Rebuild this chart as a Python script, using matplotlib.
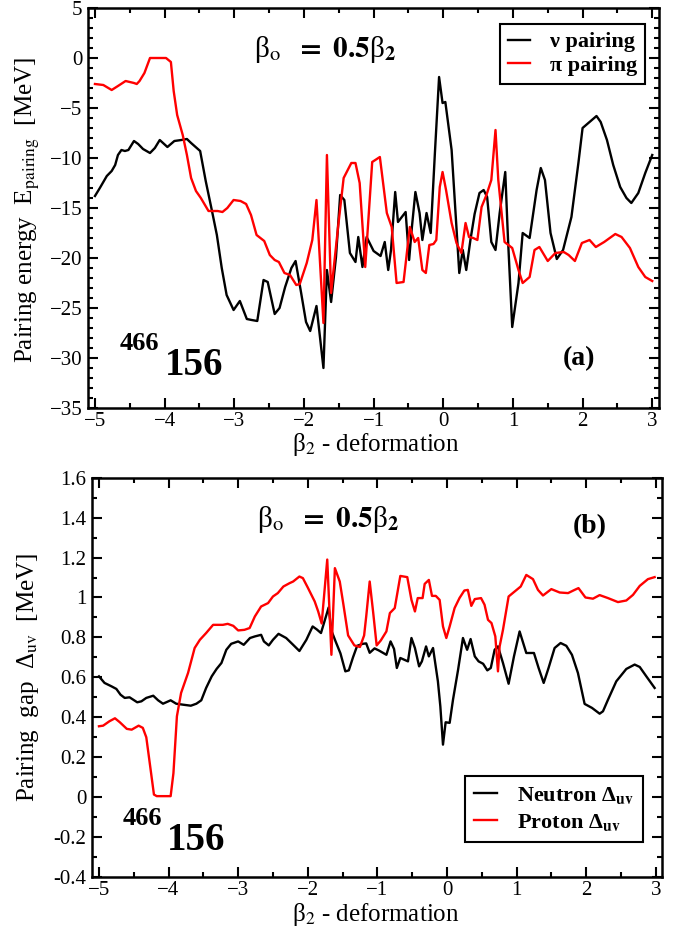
import matplotlib
matplotlib.use("Agg")
import matplotlib.pyplot as plt
from matplotlib.ticker import MultipleLocator

plt.rcParams['font.family'] = ['Liberation Serif', 'DejaVu Serif']
plt.rcParams['mathtext.fontset'] = 'stix'

# ---------------- Panel (a): pairing energy ----------------
a_nu_x = [-5.00,-4.93,-4.83,-4.76,-4.71,-4.67,-4.62,-4.57,-4.52,-4.44,-4.38,-4.31,-4.21,-4.14,-4.07,-3.96,-3.86,-3.76,-3.68,-3.62,
          -3.49,-3.41,-3.32,-3.25,-3.18,-3.11,-3.01,-2.92,-2.82,-2.75,-2.67,-2.58,-2.52,-2.42,-2.35,-2.27,-2.18,-2.12,-2.04,-1.97,
          -1.91,-1.82,-1.72,-1.67,-1.61,-1.54,-1.48,-1.42,-1.34,-1.26,-1.22,-1.16,-1.10,-1.00,-0.90,-0.84,-0.79,-0.75,-0.69,-0.65,
          -0.54,-0.49,-0.45,-0.40,-0.34,-0.30,-0.24,-0.18,-0.12,-0.06,-0.01,0.03,0.12,0.18,0.23,0.28,0.33,0.39,0.45,0.52,
          0.58,0.63,0.69,0.75,0.81,0.89,0.93,0.99,1.08,1.14,1.24,1.34,1.40,1.46,1.54,1.63,1.72,1.84,1.94,2.00,
          2.10,2.20,2.26,2.35,2.44,2.54,2.63,2.70,2.80,2.90,3.00]
a_nu_y = [-13.8,-13.0,-11.8,-11.3,-10.7,-9.7,-9.2,-9.3,-9.2,-8.3,-8.6,-9.1,-9.5,-9.0,-8.2,-8.9,-8.3,-8.2,-8.1,-8.5,
          -9.3,-12.3,-15.3,-17.7,-21.0,-23.7,-25.2,-24.3,-26.1,-26.2,-26.3,-22.2,-22.4,-25.6,-25.0,-22.9,-21.0,-20.3,-23.5,-26.4,
          -27.3,-24.8,-31.0,-21.2,-24.4,-19.9,-13.7,-14.2,-19.5,-20.4,-17.9,-20.9,-17.9,-19.3,-19.8,-18.4,-21.2,-19.2,-13.4,-16.4,
          -15.4,-20.2,-16.9,-13.4,-15.5,-18.2,-15.5,-17.5,-9.5,-1.9,-4.5,-4.4,-9.2,-15.9,-21.5,-19.2,-21.2,-18.2,-15.6,-13.5,
          -13.2,-13.9,-18.4,-19.2,-15.5,-11.4,-18.2,-26.9,-22.5,-17.5,-18.0,-13.2,-11.0,-12.2,-17.5,-20.1,-19.2,-15.9,-10.5,-7.0,
          -6.4,-5.8,-6.4,-8.2,-10.7,-12.9,-14.0,-14.5,-13.5,-11.5,-9.7]

a_pi_x = [-5.00,-4.88,-4.76,-4.67,-4.56,-4.44,-4.40,-4.36,-4.29,-4.21,-3.98,-3.91,-3.87,-3.82,-3.74,-3.68,-3.62,-3.55,-3.48,-3.37,
          -3.24,-3.17,-3.10,-3.01,-2.91,-2.83,-2.76,-2.68,-2.57,-2.49,-2.42,-2.36,-2.28,-2.20,-2.11,-2.06,-1.96,-1.88,-1.82,-1.72,
          -1.67,-1.61,-1.51,-1.43,-1.32,-1.26,-1.20,-1.12,-1.02,-0.91,-0.81,-0.74,-0.67,-0.57,-0.48,-0.41,-0.36,-0.30,-0.25,-0.20,
          -0.14,-0.10,-0.05,-0.01,0.04,0.12,0.19,0.26,0.32,0.37,0.43,0.49,0.55,0.62,0.69,0.75,0.79,0.88,0.99,1.08,
          1.14,1.24,1.31,1.38,1.50,1.61,1.73,1.80,1.89,1.99,2.10,2.19,2.31,2.47,2.56,2.68,2.80,2.90,3.00]
a_pi_y = [-2.6,-2.7,-3.2,-2.8,-2.3,-2.5,-2.6,-2.3,-1.5,0.0,0.0,-0.4,-3.3,-5.7,-7.7,-9.7,-12.0,-13.3,-14.0,-15.3,
          -15.3,-15.4,-15.0,-14.2,-14.3,-14.6,-15.7,-17.7,-18.3,-19.7,-20.2,-20.4,-21.5,-21.7,-22.7,-22.6,-20.5,-18.2,-14.2,-26.5,
          -9.7,-23.5,-16.9,-12.0,-10.5,-10.5,-12.5,-20.9,-10.4,-9.9,-15.5,-16.9,-22.5,-22.4,-16.9,-18.4,-18.0,-21.2,-21.5,-18.7,
          -18.6,-18.2,-12.9,-11.4,-13.2,-16.5,-18.5,-19.5,-16.5,-17.9,-18.0,-18.2,-14.9,-13.7,-12.2,-7.2,-12.2,-18.4,-19.0,-21.2,
          -22.5,-21.9,-19.2,-18.9,-20.3,-19.5,-19.4,-19.7,-20.3,-18.5,-18.2,-18.9,-18.4,-17.6,-17.9,-19.0,-20.9,-21.9,-22.3]

# ---------------- Panel (b): pairing gap ----------------
b_n_x = [-5.00,-4.92,-4.82,-4.75,-4.69,-4.63,-4.56,-4.45,-4.39,-4.32,-4.22,-4.15,-4.08,-3.97,-3.89,-3.79,-3.68,-3.60,-3.53,-3.46,
         -3.38,-3.31,-3.24,-3.17,-3.10,-3.00,-2.92,-2.83,-2.76,-2.67,-2.63,-2.56,-2.50,-2.42,-2.31,-2.21,-2.12,-2.02,-1.93,-1.87,
         -1.81,-1.76,-1.70,-1.66,-1.60,-1.53,-1.46,-1.41,-1.35,-1.29,-1.21,-1.16,-1.11,-1.04,-0.98,-0.87,-0.81,-0.76,-0.72,-0.67,
         -0.56,-0.51,-0.46,-0.40,-0.36,-0.30,-0.26,-0.20,-0.13,-0.095,-0.057,-0.019,0.039,0.087,0.16,0.23,0.29,0.34,0.40,0.455,
         0.52,0.58,0.63,0.685,0.733,0.805,0.886,0.963,1.044,1.14,1.25,1.317,1.39,1.46,1.547,1.633,1.715,1.796,1.882,1.978,
         2.084,2.194,2.242,2.314,2.433,2.577,2.697,2.77,2.865,2.984]
b_n_y = [0.605,0.572,0.555,0.542,0.513,0.497,0.500,0.475,0.480,0.497,0.508,0.485,0.468,0.485,0.468,0.463,0.458,0.468,0.485,0.547,
         0.605,0.642,0.672,0.738,0.768,0.780,0.763,0.797,0.805,0.813,0.780,0.760,0.788,0.818,0.797,0.763,0.732,0.788,0.855,0.840,
         0.822,0.880,0.950,0.834,0.780,0.720,0.630,0.635,0.700,0.758,0.768,0.770,0.723,0.745,0.735,0.713,0.780,0.742,0.647,0.697,
         0.680,0.797,0.747,0.655,0.680,0.755,0.705,0.747,0.580,0.455,0.263,0.375,0.372,0.488,0.638,0.797,0.738,0.792,0.705,0.680,
         0.668,0.635,0.647,0.738,0.755,0.672,0.568,0.705,0.830,0.722,0.722,0.647,0.572,0.647,0.747,0.772,0.758,0.713,0.622,0.467,
         0.447,0.418,0.430,0.488,0.580,0.642,0.664,0.652,0.605,0.547]

b_p_x = [-5.00,-4.94,-4.85,-4.77,-4.70,-4.60,-4.53,-4.43,-4.37,-4.32,-4.27,-4.21,-4.17,-3.97,-3.93,-3.88,-3.82,-3.72,-3.625,-3.55,
         -3.46,-3.36,-3.22,-3.15,-3.07,-3.00,-2.91,-2.835,-2.76,-2.67,-2.57,-2.50,-2.43,-2.35,-2.26,-2.21,-2.12,-2.07,-2.00,-1.90,
         -1.85,-1.80,-1.72,-1.66,-1.61,-1.54,-1.49,-1.42,-1.33,-1.25,-1.19,-1.16,-1.11,-1.06,-1.01,-0.95,-0.87,-0.82,-0.75,-0.67,
         -0.57,-0.51,-0.46,-0.42,-0.35,-0.32,-0.26,-0.215,-0.16,-0.105,-0.057,-0.009,0.039,0.11,0.18,0.25,0.30,0.35,0.40,0.49,
         0.54,0.59,0.64,0.695,0.733,0.757,0.805,0.886,0.973,1.06,1.14,1.236,1.308,1.38,1.50,1.62,1.74,1.834,1.89,1.99,
         2.098,2.194,2.314,2.457,2.577,2.673,2.77,2.888,2.984]
b_p_y = [0.355,0.358,0.380,0.395,0.375,0.342,0.338,0.358,0.347,0.300,0.170,0.013,0.005,0.005,0.120,0.405,0.522,0.622,0.747,0.788,
         0.822,0.863,0.863,0.868,0.858,0.835,0.838,0.847,0.905,0.955,0.972,1.005,1.022,1.055,1.072,1.080,1.105,1.097,1.050,0.980,
         0.930,0.870,1.190,0.713,1.147,1.080,0.970,0.810,0.760,0.752,0.810,0.905,1.080,0.925,0.760,0.785,0.830,0.922,0.947,1.108,
         1.102,0.988,0.930,0.997,0.997,1.068,1.088,1.008,1.008,0.988,0.855,0.797,0.855,0.947,0.997,1.035,1.038,0.958,0.992,0.997,
         0.964,0.888,0.872,0.805,0.630,0.755,0.838,1.005,1.030,1.055,1.113,1.092,1.038,1.010,1.042,1.025,1.022,1.038,1.047,1.000,
         0.994,1.012,0.997,0.977,0.985,1.013,1.058,1.092,1.102]

y_ticks_b = [-0.4, -0.2, 0, 0.2, 0.4, 0.6, 0.8, 1.0, 1.2, 1.4, 1.6]
y_ticklabels_b = ['-0.4', '-0.2', '0', '0.2', '0.4', '0.6', '0.8', '1', '1.2', '1.4', '1.6']

W, H = 683, 935
fig = plt.figure(figsize=(W / 100, H / 100), dpi=100)

def frac_rect(l, t, r, b):
    return [l / W, 1 - b / H, (r - l) / W, (b - t) / H]

ax1 = fig.add_axes(frac_rect(88, 8, 658.5, 408))
ax2 = fig.add_axes(frac_rect(92, 477.7, 662, 877))

for ax in (ax1, ax2):
    ax.set_xlim(-5.1, 3.09)
    ax.xaxis.set_major_locator(MultipleLocator(1))
    ax.xaxis.set_minor_locator(MultipleLocator(0.5))
    ax.tick_params(which='both', direction='in', top=True, right=True, width=1.5,
                   labelsize=15)
    ax.tick_params(which='major', length=7)
    ax.tick_params(which='minor', length=3.5)
    ax.tick_params(axis='x', pad=3)
    ax.tick_params(axis='y', pad=4)
    for s in ax.spines.values():
        s.set_linewidth(1.8)

title_txt = 'β$_{\\mathrm{o}}$  $\\mathbf{=\\ 0.5}$β$_{\\mathbf{2}}$'

# Panel a
ax1.plot(a_nu_x, a_nu_y, color='black', lw=1.7, label='ν pairing')
ax1.plot(a_pi_x, a_pi_y, color='#ff0000', lw=1.7, label='π pairing')
ax1.set_ylim(-35, 5)
ax1.yaxis.set_major_locator(MultipleLocator(5))
ax1.yaxis.set_minor_locator(MultipleLocator(1))
leg1 = ax1.legend(loc='upper right', bbox_to_anchor=(0.976, 0.96), borderaxespad=0,
                  prop={'weight': 'bold', 'size': 16}, handlelength=1.0, handletextpad=0.9,
                  fancybox=False, framealpha=1, edgecolor='black', labelspacing=0.15,
                  borderpad=0.35)
leg1.get_frame().set_linewidth(1.5)

ax1.text(0.415, 0.8775, title_txt, transform=ax1.transAxes, ha='center',
         va='baseline', fontsize=21)
ax1.text(0.056, 0.145, '466', transform=ax1.transAxes, ha='left', va='baseline',
         fontsize=19, fontweight='bold')
ax1.text(0.135, 0.0825, '156', transform=ax1.transAxes, ha='left', va='baseline',
         fontsize=28, fontweight='bold')
ax1.text(0.833, 0.1075, '(a)', transform=ax1.transAxes, ha='left', va='baseline',
         fontsize=20, fontweight='bold')

# Panel b
ax2.plot(b_n_x, b_n_y, color='black', lw=1.7, label='Neutron Δ$_{\\mathbf{uv}}$')
ax2.plot(b_p_x, b_p_y, color='#ff0000', lw=1.7, label='Proton Δ$_{\\mathbf{uv}}$')
ax2.set_ylim(-0.4, 1.6)
ax2.set_yticks(y_ticks_b)
ax2.set_yticklabels(y_ticklabels_b)
ax2.yaxis.set_minor_locator(MultipleLocator(0.1))
leg2 = ax2.legend(loc='lower right', bbox_to_anchor=(0.966, 0.0885), borderaxespad=0,
                  prop={'weight': 'bold', 'size': 16}, handlelength=1.0, handletextpad=0.9,
                  fancybox=False, framealpha=1, edgecolor='black', labelspacing=0.25,
                  borderpad=0.4)
leg2.get_frame().set_linewidth(1.5)

ax2.text(0.414, 0.877, title_txt, transform=ax2.transAxes, ha='center',
         va='baseline', fontsize=21)
ax2.text(0.054, 0.130, '466', transform=ax2.transAxes, ha='left', va='baseline',
         fontsize=19, fontweight='bold')
ax2.text(0.132, 0.067, '156', transform=ax2.transAxes, ha='left', va='baseline',
         fontsize=28, fontweight='bold')
ax2.text(0.843, 0.861, '(b)', transform=ax2.transAxes, ha='left', va='baseline',
         fontsize=20, fontweight='bold')

# axis labels
fig.text(376 / W, 1 - 444 / H, 'β$_2$ - deformation', ha='center', va='center', fontsize=18)
fig.text(376 / W, 1 - 914 / H, 'β$_2$ - deformation', ha='center', va='center', fontsize=18)
fig.text(28 / W, 1 - 210 / H, 'Pairing energy  E$_{\\mathrm{pairing}}$  [MeV]',
         rotation=90, ha='center', va='center', fontsize=18)
fig.text(28 / W, 1 - 677 / H, 'Pairing  gap  Δ$_{\\mathrm{uv}}$  [MeV]',
         rotation=90, ha='center', va='center', fontsize=18)

fig.savefig('out.png', dpi=100)
